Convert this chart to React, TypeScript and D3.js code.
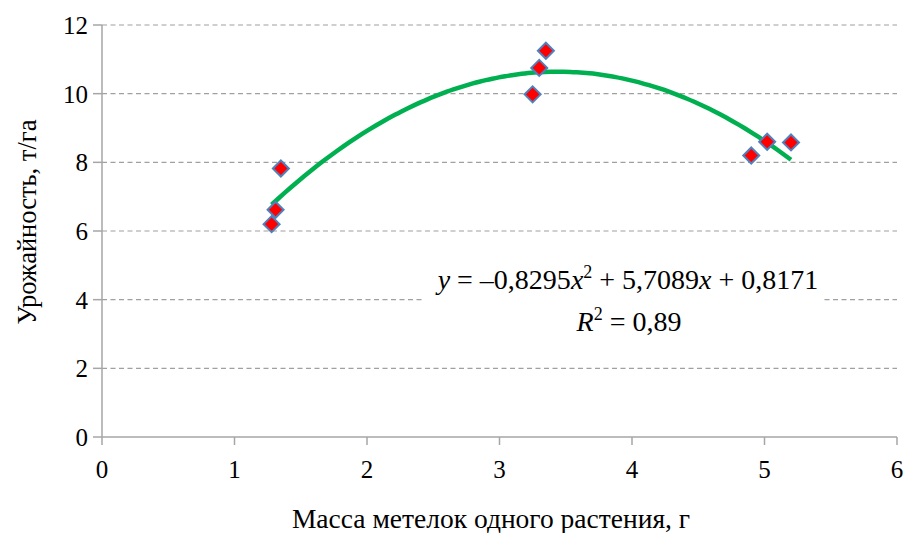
import React from "react";
import * as d3 from "d3";

const xValues = [1.28, 1.31, 1.35, 3.25, 3.3, 3.35, 4.9, 5.02, 5.2];
const yValues = [6.2, 6.62, 7.82, 9.98, 10.75, 11.25, 8.2, 8.6, 8.58];
const xTicks = [0, 1, 2, 3, 4, 5, 6];
const yTicks = [0, 2, 4, 6, 8, 10, 12];
const trendCoef = [-0.8295, 5.7089, 0.8171];
const trendRange = [1.28, 5.2];
const xTitle = "Масса метелок одного растения, г";
const yTitle = "Урожайность, т/га";

const W = 906;
const H = 533;
const left = 102;
const right = 897;
const top = 25;
const bottom = 437;

function T(props: any) {
  const { children, ...rest } = props;
  return (
    <text {...rest} fontFamily="Liberation Serif" style={{ fontFamily: '"Liberation Serif"' }} fill="#000">
      {children}
    </text>
  );
}

export default function App() {
  const x = d3.scaleLinear().domain([0, 6]).range([left, right]);
  const y = d3.scaleLinear().domain([0, 12]).range([bottom, top]);
  const f = (v: number) => trendCoef[0] * v * v + trendCoef[1] * v + trendCoef[2];
  const n = 80;
  const curvePts: [number, number][] = d3.range(n + 1).map((i) => {
    const v = trendRange[0] + ((trendRange[1] - trendRange[0]) * i) / n;
    return [v, f(v)];
  });
  const line = d3
    .line<[number, number]>()
    .x((d) => x(d[0]))
    .y((d) => y(d[1]))
    .curve(d3.curveMonotoneX);
  const axisColor = "#A6A6A6";
  const r = 8;
  return (
    <svg width={W} height={H} style={{ position: "absolute", left: 0, top: 0, background: "#fff" }}>
      {yTicks.filter((t) => t > 0).map((t) => (
        <line
          key={"g" + t}
          x1={left}
          x2={right}
          y1={y(t)}
          y2={y(t)}
          stroke="#A0A0A0"
          strokeWidth={1.2}
          strokeDasharray="5,3.5"
        />
      ))}
      <line x1={left} x2={left} y1={top} y2={bottom} stroke={axisColor} strokeWidth={1.5} />
      <line x1={left} x2={right} y1={bottom} y2={bottom} stroke={axisColor} strokeWidth={1.5} />
      {yTicks.map((t) => (
        <g key={"yt" + t}>
          <line x1={left - 9} x2={left} y1={y(t)} y2={y(t)} stroke={axisColor} strokeWidth={1.5} />
          <T x={left - 14} y={y(t) + 9} textAnchor="end" fontSize={25}>
            {t}
          </T>
        </g>
      ))}
      {xTicks.map((t) => (
        <g key={"xt" + t}>
          <line x1={x(t)} x2={x(t)} y1={bottom} y2={bottom + 8} stroke={axisColor} strokeWidth={1.5} />
          <T x={x(t)} y={bottom + 41} textAnchor="middle" fontSize={25}>
            {t}
          </T>
        </g>
      ))}
      <path d={line(curvePts) || ""} fill="none" stroke="#00B050" strokeWidth={4.5} strokeLinecap="butt" />
      {xValues.map((xv, i) => {
        const cx = x(xv);
        const cy = y(yValues[i]);
        return (
          <path
            key={"p" + i}
            d={`M${cx},${cy - r}L${cx + r},${cy}L${cx},${cy + r}L${cx - r},${cy}Z`}
            fill="#FF0000"
            stroke="#4F81BD"
            strokeWidth={2}
          />
        );
      })}
      <rect x={425} y={262} width={397} height={78} fill="#fff" />
      <T x={628} y={289} textAnchor="middle" fontSize={28}>
        <tspan fontStyle="italic">y</tspan>
        <tspan> = –0,8295</tspan>
        <tspan fontStyle="italic">x</tspan>
        <tspan fontSize={18} dy={-11}>2</tspan>
        <tspan dy={11}> + 5,7089</tspan>
        <tspan fontStyle="italic">x</tspan>
        <tspan> + 0,8171</tspan>
      </T>
      <T x={629} y={331} textAnchor="middle" fontSize={28}>
        <tspan fontStyle="italic">R</tspan>
        <tspan fontSize={18} dy={-11}>2</tspan>
        <tspan dy={11}> = 0,89</tspan>
      </T>
      <T x={491} y={528} textAnchor="middle" fontSize={27.5}>
        {xTitle}
      </T>
      <T transform={`translate(36,222) rotate(-90)`} textAnchor="middle" fontSize={26.5}>
        {yTitle}
      </T>
    </svg>
  );
}
